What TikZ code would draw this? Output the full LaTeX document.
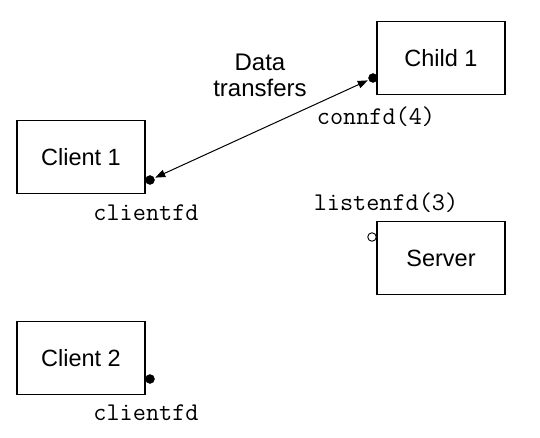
\documentclass[tikz,border=0pt]{standalone}
\usepackage{fontspec}
\setmainfont{Liberation Sans}
\usetikzlibrary{arrows.meta}
\begin{document}
\begin{tikzpicture}[x=1pt,y=-1pt,
  box/.style={draw, line width=1.8pt, minimum width=128pt, minimum height=73pt, inner sep=0pt, font=\fontsize{23.5}{26}\selectfont},
  lbl/.style={font=\ttfamily\fontsize{25.5}{26}\selectfont, inner sep=0pt},
  dotf/.style={circle, fill=black, draw=black, minimum size=9pt, inner sep=0pt},
  doto/.style={circle, fill=white, draw=black, line width=0.9pt, minimum size=8.5pt, inner sep=0pt}]
\useasboundingbox (0,0) rectangle (540,438);
\node[box] (child) at (441,58) {Child 1};
\node[box] (client1) at (81,157) {Client 1};
\node[box] (server) at (441,258) {Server};
\node[box] (client2) at (81,358) {Client 2};
\node[dotf] (cd) at (373,78) {};
\node[dotf] (c1d) at (150,180) {};
\node[dotf] (c2d) at (150,379) {};
\node[doto] (sd) at (372,237) {};
\node[lbl] (connfd) at (376,117) {connfd(4)};
\node[lbl] (listenfd) at (386,203) {listenfd(3)};
\node[lbl] (cfd1) at (146,213) {clientfd};
\node[lbl] (cfd2) at (146,413) {clientfd};
\node[font=\fontsize{24}{27}\selectfont, align=center, inner sep=0pt] (dt) at (260,75) {Data\\[-1pt]transfers};
\draw[line width=1pt, {Triangle[length=10pt,width=7.5pt]}-{Triangle[length=10pt,width=7.5pt]}, shorten <=1pt, shorten >=1pt] (c1d) -- (cd);
\end{tikzpicture}
\end{document}
